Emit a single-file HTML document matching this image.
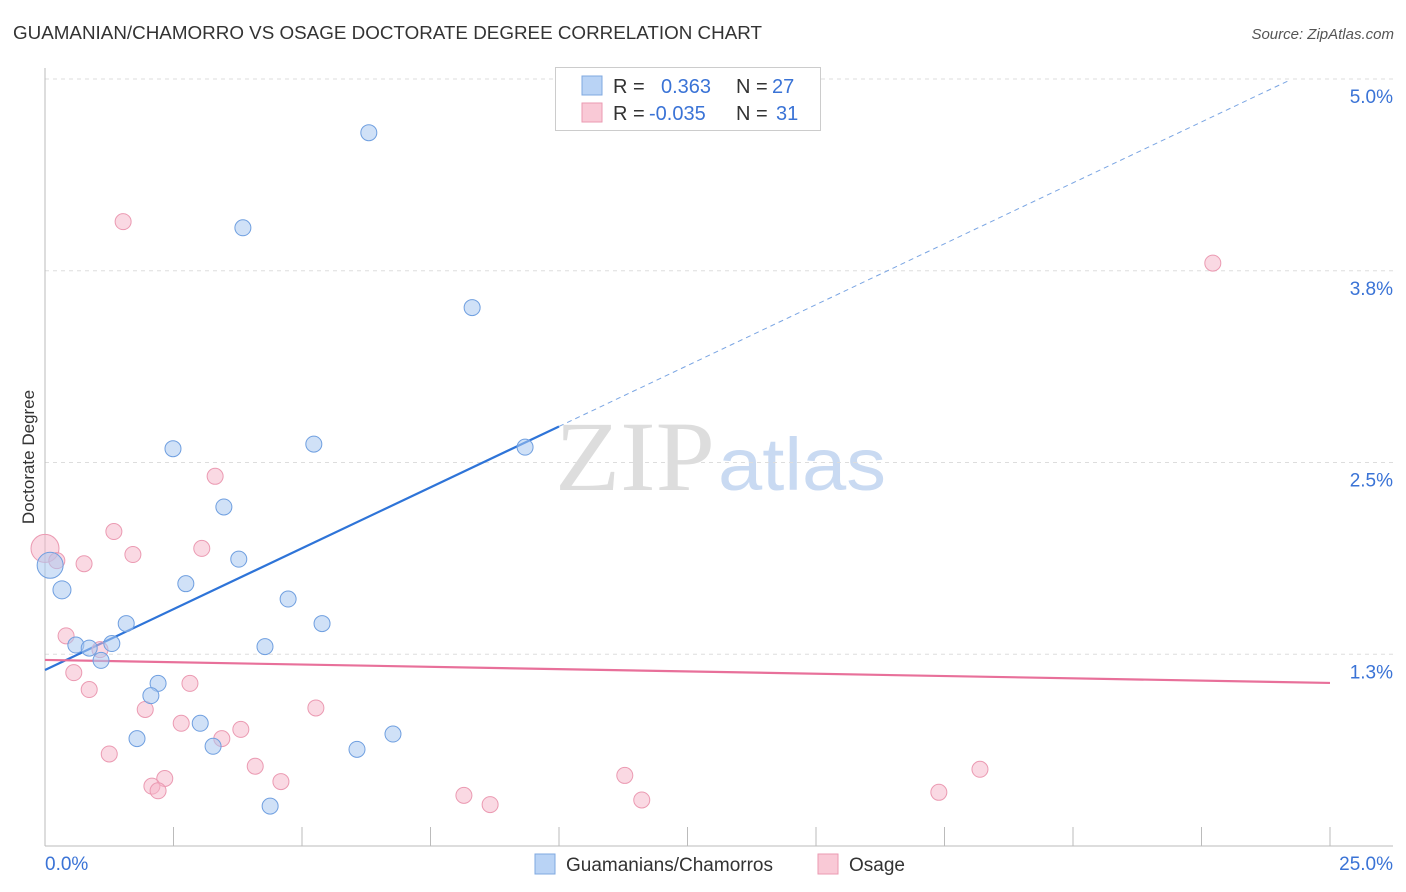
<!DOCTYPE html>
<html><head><meta charset="utf-8"><style>
body{margin:0;background:#fff;font-family:"Liberation Sans",sans-serif;}
svg{display:block}
</style></head><body>
<svg id="chart" width="1406" height="892">
<text x="13" y="39" font-size="18" fill="#333" textLength="749" lengthAdjust="spacingAndGlyphs">GUAMANIAN/CHAMORRO VS OSAGE DOCTORATE DEGREE CORRELATION CHART</text>
<text x="1394" y="39" font-size="15" fill="#555" font-style="italic" text-anchor="end">Source: ZipAtlas.com</text>
<text x="34" y="457" font-size="17" fill="#333" text-anchor="middle" transform="rotate(-90 34 457)">Doctorate Degree</text>
<g>
<text x="555" y="490" font-size="100" fill="#ddd" font-family="Liberation Serif,serif" textLength="160" lengthAdjust="spacingAndGlyphs">ZIP</text>
<text x="718" y="490" font-size="74" fill="#c9daf2" textLength="168" lengthAdjust="spacingAndGlyphs">atlas</text>
</g>
<g id="grid"></g><g id="axes"></g><g id="trends"></g><g id="points"></g>
<g>
<rect x="555.5" y="67.5" width="265" height="63" fill="#fff" stroke="#ccc"/>
<rect x="582" y="76" width="20" height="19" fill="#b9d3f5" stroke="#7fa8e0"/>
<rect x="582" y="103" width="20" height="19" fill="#f9c9d6" stroke="#eb9ab2"/>
<text font-size="20" fill="#333"><tspan x="613" y="93">R =</tspan><tspan x="661" y="93" fill="#3a73d6">0.363</tspan><tspan x="736" y="93">N =</tspan><tspan x="772" y="93" fill="#3a73d6">27</tspan></text>
<text font-size="20" fill="#333"><tspan x="613" y="120">R =</tspan><tspan x="649" y="120" fill="#3a73d6">-0.035</tspan><tspan x="736" y="120">N =</tspan><tspan x="776" y="120" fill="#3a73d6">31</tspan></text>
</g>
<g>
<rect x="535" y="854" width="20" height="20" fill="#b9d3f5" stroke="#7fa8e0"/>
<text x="566" y="871" font-size="19" fill="#333">Guamanians/Chamorros</text>
<rect x="818" y="854" width="20" height="20" fill="#f9c9d6" stroke="#eb9ab2"/>
<text x="849" y="871" font-size="19" fill="#333">Osage</text>
</g>
</svg>
<script>
const yTicks=[1.25,2.5,3.75,5.0];
const yTickLabels=["1.3%","2.5%","3.8%","5.0%"];
const xTicks=[0,2.5,5,7.5,10,12.5,15,17.5,20,22.5,25];
const blueX=[6.30,3.85,8.31,2.49,5.23,9.34,3.48,3.77,2.74,0.10,0.33,4.73,5.39,1.58,0.60,0.86,1.30,1.09,4.28,2.20,2.06,3.02,1.79,3.27,6.07,6.77,4.38];
const blueY=[4.65,4.03,3.51,2.59,2.62,2.60,2.21,1.87,1.71,1.83,1.67,1.61,1.45,1.45,1.31,1.29,1.32,1.21,1.30,1.06,0.98,0.80,0.70,0.65,0.63,0.73,0.26];
const pinkX=[1.52,22.72,3.31,1.34,1.71,3.05,0.76,0.0,0.23,0.41,1.07,0.56,0.86,2.82,1.95,2.65,3.81,5.27,3.44,1.25,4.09,4.59,2.33,2.08,2.20,8.15,8.66,11.28,11.61,17.39,18.19];
const pinkY=[4.07,3.80,2.41,2.05,1.90,1.94,1.84,1.94,1.86,1.37,1.28,1.13,1.02,1.06,0.89,0.80,0.76,0.90,0.70,0.60,0.52,0.42,0.44,0.39,0.36,0.33,0.27,0.46,0.30,0.35,0.50];
const blueTrend=[1.147,0.1588];
const pinkTrend=[1.213,-0.006];
const NS="http://www.w3.org/2000/svg";
const X=v=>45+v*(1285/25);
const Y=v=>846-v*(767/5);
function mk(tag,attrs,parent){const e=document.createElementNS(NS,tag);for(const k in attrs)e.setAttribute(k,attrs[k]);document.getElementById(parent).appendChild(e);return e;}
yTicks.forEach((t,i)=>{
 const l=mk('line',{x1:45,x2:1393,y1:Y(t),y2:Y(t),stroke:'#ddd','stroke-dasharray':'4,4'},'grid');
 
 
 const tx=mk('text',{x:1393,y:Y(t)+24,'font-size':19,fill:'#3a73d6','text-anchor':'end'},'grid');
 tx.textContent=yTickLabels[i];
 
 
});
const ax=mk('line',{x1:45,x2:45,y1:68,y2:846,stroke:'#bbb'},'axes');


const bx=mk('line',{x1:45,x2:1393,y1:846,y2:846,stroke:'#bbb'},'axes');


xTicks.forEach(t=>{
 const l=mk('line',{x1:X(t),x2:X(t),y1:827,y2:846,stroke:'#bbb'},'axes');
 
 
});
const xl0=mk('text',{x:45,y:870,'font-size':19,fill:'#3a73d6'},'axes');xl0.textContent='0.0%';


const xl1=mk('text',{x:1393,y:870,'font-size':19,fill:'#3a73d6','text-anchor':'end'},'axes');xl1.textContent='25.0%';


const bEnd=10;
const t1=mk('line',{x1:X(0),y1:Y(blueTrend[0]),x2:X(bEnd),y2:Y(blueTrend[0]+blueTrend[1]*bEnd),stroke:'#2e74d8','stroke-width':2.2},'trends');


const t2=mk('line',{x1:X(bEnd),y1:Y(blueTrend[0]+blueTrend[1]*bEnd),x2:X(24.2),y2:Y(blueTrend[0]+blueTrend[1]*24.2),stroke:'#7aa5e3','stroke-width':1,'stroke-dasharray':'5,4'},'trends');


const t3=mk('line',{x1:X(0),y1:Y(pinkTrend[0]),x2:X(25),y2:Y(pinkTrend[0]+pinkTrend[1]*25),stroke:'#e8709a','stroke-width':2.2},'trends');


pinkX.forEach((x,i)=>{
 const c=mk('circle',{cx:X(x),cy:Y(pinkY[i]),r:(i===7?14:8),fill:'rgba(246,180,200,0.5)',stroke:'#eb9ab2','stroke-width':1},'points');
 
 
});
blueX.forEach((x,i)=>{
 const c=mk('circle',{cx:X(x),cy:Y(blueY[i]),r:(i===9?13:(i===10?9:8)),fill:'rgba(170,200,240,0.55)',stroke:'#6f9fe0','stroke-width':1},'points');
 
 
});
</script>
</body></html>
